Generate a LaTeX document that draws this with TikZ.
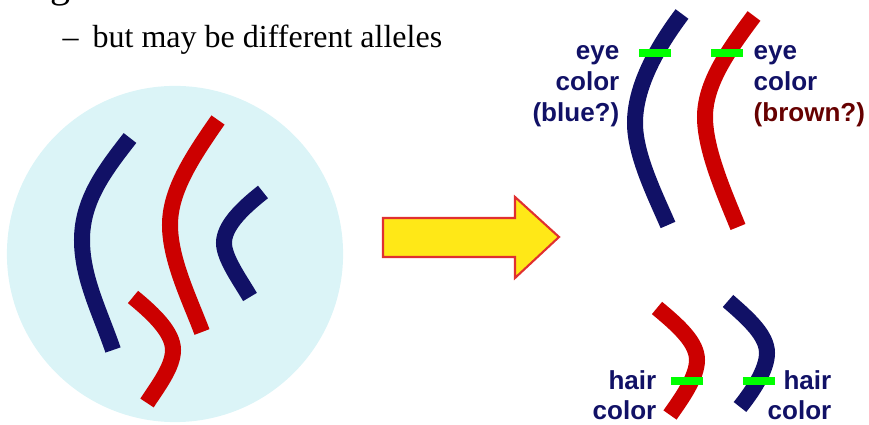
\documentclass[tikz,border=0pt]{standalone}
\usepackage{fontspec}
\setmainfont{Liberation Serif}
\setsansfont{Liberation Sans}
\usetikzlibrary{positioning}

\definecolor{chromblue}{HTML}{111166}
\definecolor{chromred}{HTML}{CC0000}
\definecolor{nucleus}{HTML}{DBF4F7}
\definecolor{locus}{HTML}{00FF00}
\definecolor{darkbrown}{HTML}{660000}
\definecolor{arrowfill}{HTML}{FFE817}
\definecolor{arrowline}{HTML}{E03030}

\begin{document}
\begin{tikzpicture}[
    x=0.01cm, y=-0.01cm,
    chromo/.style={line width=0.16cm, line cap=butt},
    gene/.style={fill=locus, minimum width=0.32cm, minimum height=0.08cm, inner sep=0pt},
    lbl/.style={font=\sffamily\bfseries\fontsize{7.4}{9}\selectfont, text=chromblue, inner sep=0pt},
    txt/.style={font=\fontsize{9.1}{11}\selectfont, inner sep=0pt}
]
\useasboundingbox (0,0) rectangle (869,425);

% bullet text
\node[font=\fontsize{11.4}{13}\selectfont, inner sep=0pt, anchor=base west] (head) at (50,-2) {g};
\node[txt, anchor=base west] (dash) at (62,48) {--};
\node[txt, anchor=base west] (sub) at (92,48) {but may be different alleles};

% nucleus with loose chromosomes
\fill[nucleus] (175,254) circle[radius=1.68cm];
\draw[chromo, chromblue] (130,138) .. controls (105,170) and (82,200) .. (82,240)
    .. controls (82,278) and (100,312) .. (113,350);
\draw[chromo, chromred] (218,120) .. controls (190,160) and (170,192) .. (170,225)
    .. controls (170,260) and (190,300) .. (202,332);
\draw[chromo, chromblue] (263,192) .. controls (240,210) and (224,227) .. (224,243)
    .. controls (224,258) and (240,280) .. (250,297);
\draw[chromo, chromred] (133,297) .. controls (155,315) and (173,333) .. (173,350)
    .. controls (173,367) and (158,386) .. (147,403);

% arrow
\draw[arrowline, fill=arrowfill, line width=0.6pt]
    (383,218) -- (515,218) -- (515,197) -- (559,237) -- (515,278) -- (515,257) -- (383,257) -- cycle;

% eye color pair
\draw[chromo, chromblue] (682,14) .. controls (655,50) and (635,88) .. (635,123)
    .. controls (635,155) and (655,195) .. (668,225);
\draw[chromo, chromred] (754,16) .. controls (727,52) and (705,84) .. (705,117)
    .. controls (705,150) and (725,195) .. (738,227);
\node[gene] (eyeB) at (655,53) {};
\node[gene] (eyeR) at (727,53) {};

\node[lbl, anchor=base east] (eyeL1) at (620,60) {eye};
\node[lbl, anchor=base east] (eyeL2) at (620,91) {color};
\node[lbl, anchor=base east] (eyeL3) at (620,122) {(blue?)};
\node[lbl, anchor=base west] (eyeR1) at (753,60) {eye};
\node[lbl, anchor=base west] (eyeR2) at (753,91) {color};
\node[lbl, anchor=base west, text=darkbrown] (eyeR3) at (753,122) {(brown?)};

% hair color pair
\draw[chromo, chromred] (657,308) .. controls (680,327) and (697,343) .. (697,360)
    .. controls (697,377) and (682,398) .. (670,415);
\draw[chromo, chromblue] (728,301) .. controls (750,320) and (767,336) .. (767,353)
    .. controls (767,370) and (752,392) .. (740,407);
\node[gene] (hairR) at (687,381) {};
\node[gene] (hairB) at (759,381) {};

\node[lbl, anchor=base east] (hairL1) at (657,390) {hair};
\node[lbl, anchor=base east] (hairL2) at (657,420) {color};
\node[lbl, anchor=base east] (hairR1) at (832,390) {hair};
\node[lbl, anchor=base east] (hairR2) at (832,420) {color};
\end{tikzpicture}
\end{document}
